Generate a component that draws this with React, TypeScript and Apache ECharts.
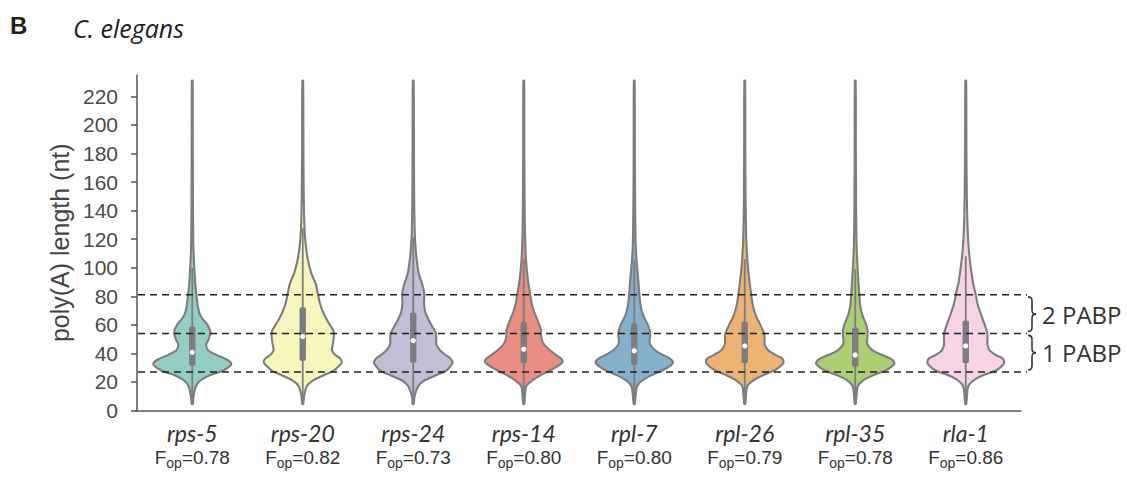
import { useEffect, useRef } from 'react';
import * as echarts from 'echarts';

const categories = ['rps-5', 'rps-20', 'rps-24', 'rps-14', 'rpl-7', 'rpl-26', 'rpl-35', 'rla-1'];
const fopValues = ['0.78', '0.82', '0.73', '0.80', '0.80', '0.79', '0.78', '0.86'];
const yTickValues = [0, 20, 40, 60, 80, 100, 120, 140, 160, 180, 200, 220];

// poly(A) length levels (nt) at which the violin density (half-width) was read
const densityLevels = [4.5, 10, 17, 21, 25, 28, 32, 34, 36.5, 39, 42, 46, 49, 53, 56, 60, 65, 69, 75, 82, 89, 96, 106, 117, 130, 150, 180, 231];

const densityRps5 = [0.5, 1.3, 3.7, 8.2, 18.7, 31, 38.7, 38, 32, 24, 16, 13.9, 15.8, 17.8, 17.8, 15.2, 9.5, 6.8, 5.2, 4, 3, 2.4, 1.6, 1.1, 0.9, 0.7, 0.6, 0.4];
const densityRps20 = [0.5, 1.3, 4, 10, 22, 31, 37.3, 39, 37.3, 32.3, 29.2, 29.9, 30.6, 31.2, 30.5, 27, 23, 20.2, 17.2, 15, 12.8, 8.6, 5, 2.8, 1.6, 1.0, 0.7, 0.4];
const densityRps24 = [0.5, 1.3, 5, 11, 24, 33, 38.2, 39.3, 37, 32, 27, 23.3, 22.9, 22.9, 21.3, 18, 14.4, 12, 10.8, 11, 8.8, 5.5, 3.4, 2.0, 1.3, 0.9, 0.7, 0.4];
const densityRps14 = [0.5, 1.2, 2.5, 8.5, 17.5, 26, 35.8, 38.8, 37.3, 32, 26.5, 20.6, 18.3, 17.3, 17.3, 15.6, 12.8, 10.5, 8, 6.3, 4.7, 3.4, 2.2, 1.5, 1.1, 0.8, 0.6, 0.4];
const densityRpl7 = [0.5, 1.3, 2.8, 8, 18.2, 28, 37, 38.6, 35.3, 28.5, 21.2, 16, 15.3, 16, 15.4, 13.6, 10, 7.8, 6, 5, 4.3, 3.4, 2.2, 1.4, 1.1, 0.8, 0.6, 0.4];
const densityRpl26 = [0.5, 1.2, 2.5, 8.3, 19.2, 29.5, 37.3, 38.8, 37.3, 30.5, 23.8, 20, 19.7, 19.7, 18.2, 15.6, 12, 9.8, 7.7, 6.3, 5, 3.8, 2.6, 1.7, 1.2, 0.8, 0.6, 0.4];
const densityRpl35 = [0.5, 1.2, 2.5, 7.7, 19.2, 30.3, 38.4, 38.8, 35, 26.5, 17.8, 12.3, 11.7, 12.3, 12.3, 11, 8.1, 6.2, 4.7, 4, 3.3, 2.7, 1.9, 1.3, 1.0, 0.8, 0.6, 0.4];
const densityRla1 = [0.5, 1.2, 2.5, 7.7, 18.5, 30.3, 37.3, 38.3, 36.7, 29.8, 24, 21.7, 21.7, 21.7, 20.8, 19, 16.4, 14.4, 11.7, 9.7, 7.4, 5.8, 4, 2.6, 1.7, 1.1, 0.7, 0.4];
const densities = [densityRps5, densityRps20, densityRps24, densityRps14, densityRpl7, densityRpl26, densityRpl35, densityRla1];

const q1Values = [31.2, 34.7, 33.5, 33.1, 31.9, 33.1, 30.7, 33.1];
const medianValues = [40.8, 51.8, 49.0, 42.9, 41.9, 45.2, 38.9, 45.2];
const q3Values = [58.8, 72.3, 68.6, 62.3, 61.1, 62.3, 58.1, 63.0];
const whiskerLowValues = [5, 5, 5, 5, 5, 5, 5, 5];
const whiskerHighValues = [100, 128, 121, 106, 105, 106, 99, 108];

const pabpThresholds = [27, 54, 81];
const pabpLabels = ['1 PABP', '2 PABP'];

const violinColors = ['#93cdc3', '#f6f6bd', '#c1bed6', '#ea8e83', '#86afcc', '#ebb374', '#adcf74', '#f6d3e5'];
const GRAY = '#7d7d7f';

export default function App() {
  const ref = useRef<HTMLDivElement>(null);

  useEffect(() => {
    if (!ref.current) return;
    const chart = echarts.init(ref.current, undefined, { renderer: 'svg' });
    const maxDensity = Math.max(...densities.map((d) => Math.max(...d)));

    const option: any = {
      animation: false,
      backgroundColor: '#ffffff',
      title: [
        {
          text: 'B',
          left: 10,
          top: 13,
          padding: 0,
          textStyle: { fontFamily: 'Liberation Sans', fontWeight: 'bold', fontSize: 24, color: '#231f20' },
        },
        {
          text: 'C. elegans',
          left: 73,
          top: 15,
          padding: 0,
          textStyle: { fontFamily: 'Open Sans', fontStyle: 'italic', fontWeight: 'normal', fontSize: 25, color: '#231f20' },
        },
      ],
      grid: { left: 137, right: 106, top: 75, bottom: 69.5, containLabel: false },
      xAxis: {
        type: 'category',
        data: categories,
        boundaryGap: true,
        axisLine: { lineStyle: { color: '#555', width: 1.5 } },
        axisTick: { alignWithLabel: true, length: 6, lineStyle: { color: '#555', width: 1.5 } },
        axisLabel: {
          interval: 0,
          margin: 9,
          formatter: (value: string, index: number) =>
            `{c|${value}}\n{a|F}{b|op}{a|=${fopValues[index]}}`,
          rich: {
            c: { fontFamily: 'Lato', fontStyle: 'italic', fontSize: 23, lineHeight: 26, color: '#333' },
            a: { fontFamily: 'Liberation Sans', fontSize: 19, lineHeight: 24, color: '#333' },
            b: { fontFamily: 'Liberation Sans', fontSize: 14, lineHeight: 12, verticalAlign: 'bottom', color: '#333' },
          },
        },
        splitLine: { show: false },
      },
      yAxis: {
        type: 'value',
        min: 0,
        max: 235,
        name: 'poly(A) length (nt)',
        nameLocation: 'middle',
        nameGap: 59,
        nameTextStyle: { fontFamily: 'Liberation Sans', fontSize: 25, color: '#444' },
        axisLine: { show: true, lineStyle: { color: '#555', width: 1.5 } },
        axisTick: { show: true, length: 6, customValues: yTickValues, lineStyle: { color: '#555', width: 1.5 } },
        axisLabel: {
          customValues: yTickValues,
          margin: 19,
          fontFamily: 'Liberation Sans',
          fontSize: 21,
          color: '#4a4a4a',
        },
        splitLine: { show: false },
      },
      series: [
        {
          type: 'custom',
          clip: false,
          data: categories.map((_, i) => [i, medianValues[i]]),
          encode: { x: 0, y: 1 },
          renderItem: (params: any, api: any) => {
            const i = params.dataIndex;
            const cx = api.coord([i, 0])[0];
            const band = api.size([1, 0])[0];
            const maxHalf = band * 0.356;
            const dens = densities[i];
            const right: number[][] = [];
            const left: number[][] = [];
            for (let k = 0; k < densityLevels.length; k++) {
              const y = api.coord([i, densityLevels[k]])[1];
              const w = (dens[k] / maxDensity) * maxHalf;
              right.push([cx + w, y]);
              left.push([cx - w, y]);
            }
            const points = right.concat(left.reverse());
            const yQ1 = api.coord([i, q1Values[i]])[1];
            const yQ3 = api.coord([i, q3Values[i]])[1];
            const yMed = api.coord([i, medianValues[i]])[1];
            const yLo = api.coord([i, whiskerLowValues[i]])[1];
            const yHi = api.coord([i, whiskerHighValues[i]])[1];
            const boxW = band * 0.058;
            return {
              type: 'group',
              children: [
                {
                  type: 'polygon',
                  shape: { points, smooth: 0.3 },
                  style: { fill: violinColors[i], stroke: GRAY, lineWidth: 2.1 },
                },
                {
                  type: 'line',
                  shape: { x1: cx, y1: yLo, x2: cx, y2: yHi },
                  style: { stroke: GRAY, lineWidth: 1.8 },
                },
                {
                  type: 'rect',
                  shape: { x: cx - boxW / 2, y: yQ3, width: boxW, height: yQ1 - yQ3, r: 2 },
                  style: { fill: GRAY },
                },
                {
                  type: 'circle',
                  shape: { cx, cy: yMed, r: 2.6 },
                  style: { fill: '#ffffff' },
                },
              ],
            };
          },
        },
      ],
    };

    chart.setOption(option);

    const yPix = (v: number) => chart.convertToPixel({ yAxisIndex: 0 }, v) as number;
    const lineStart = 138;
    const lineEnd = 1027;
    const graphics: any[] = [];
    pabpThresholds.forEach((t) => {
      const y = yPix(t);
      graphics.push({
        type: 'line',
        z: 100,
        shape: { x1: lineStart, y1: y, x2: lineEnd, y2: y },
        style: { stroke: '#222', lineWidth: 1.5, lineDash: [7, 5] },
      });
    });

    const braceStyle = { stroke: '#333', lineWidth: 1.6, fill: null };
    for (let k = 0; k < pabpThresholds.length - 1; k++) {
      const yb = yPix(pabpThresholds[k]) - 2;
      const yt = yPix(pabpThresholds[k + 1]) + 2;
      const ym = (yt + yb) / 2;
      const x0 = 1028;
      const xm = 1032;
      const xt = 1036;
      const r = 4;
      const pieces = [
        { type: 'bezierCurve', shape: { x1: x0, y1: yt, x2: xm, y2: yt + r, cpx1: xm, cpy1: yt } },
        { type: 'line', shape: { x1: xm, y1: yt + r, x2: xm, y2: ym - r } },
        { type: 'bezierCurve', shape: { x1: xm, y1: ym - r, x2: xt, y2: ym, cpx1: xm, cpy1: ym } },
        { type: 'bezierCurve', shape: { x1: xt, y1: ym, x2: xm, y2: ym + r, cpx1: xm, cpy1: ym } },
        { type: 'line', shape: { x1: xm, y1: ym + r, x2: xm, y2: yb - r } },
        { type: 'bezierCurve', shape: { x1: xm, y1: yb - r, x2: x0, y2: yb, cpx1: xm, cpy1: yb } },
      ];
      pieces.forEach((p) => graphics.push({ ...p, z: 100, style: braceStyle }));
      graphics.push({
        type: 'text',
        z: 100,
        x: 1042,
        y: ym,
        style: {
          text: pabpLabels[k],
          fontFamily: 'Open Sans',
          fontSize: 24,
          fill: '#333',
          verticalAlign: 'middle',
          align: 'left',
        },
      });
    }

    chart.setOption({ graphic: graphics });

    return () => {
      chart.dispose();
    };
  }, []);

  return (
    <div
      ref={ref}
      style={{ position: 'fixed', left: 0, top: 0, width: 1127, height: 480, background: '#fff' }}
    />
  );
}
